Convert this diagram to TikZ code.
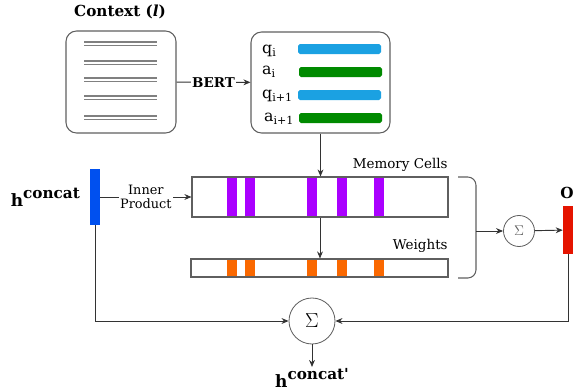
\documentclass[tikz,border=0pt]{standalone}
\usepackage{fontspec}
\setmainfont{DejaVu Serif}
\usetikzlibrary{arrows.meta}
\definecolor{qblue}{HTML}{1BA1E2}
\definecolor{agreen}{HTML}{008A00}
\definecolor{cellpurple}{HTML}{AA00FF}
\definecolor{wtorange}{HTML}{FA6800}
\definecolor{hblue}{HTML}{0050EF}
\definecolor{ored}{HTML}{E51400}
\definecolor{edgegray}{HTML}{5F5F5F}
\begin{document}
\begin{tikzpicture}[x=0.03cm, y=-0.03cm,
    >={Stealth[length=6pt,width=5pt]},
    font=\fontsize{11.5}{13}\selectfont,
    roundbox/.style={draw=edgegray, line width=0.9pt, rounded corners=9pt, inner sep=0pt},
    cellbox/.style={draw=edgegray, line width=0.9pt, inner sep=0pt},
    vecbar/.style={draw=none, inner sep=0pt, minimum width=0.3cm},
    sumnode/.style={circle, draw=edgegray, line width=0.7pt, inner sep=0pt},
    qlbl/.style={anchor=west, inner sep=0pt, font=\fontsize{13.5}{15}\selectfont},
    boldlbl/.style={font=\fontsize{14.5}{16}\selectfont\bfseries}]
  \useasboundingbox (0,0) rectangle (579,390);
  % context and encoder boxes
  \node[roundbox, minimum width=3.3cm, minimum height=3.06cm] (ctx) at (121,82) {};
  \node[boldlbl, font=\fontsize{13}{15}\selectfont\bfseries] (ctxlbl) at (120,12) {Context (\textit{l})};
  \foreach \ly in {42,61,78,96,116}
    \draw[gray, line width=1.1pt] (84,\ly) -- (157,\ly) (84,\ly+3.5) -- (157,\ly+3.5);
  \node[roundbox, minimum width=4.17cm, minimum height=3.03cm] (enc) at (320.5,82.5) {};
  \node[qlbl] (qa) at (262,51) {q\textsubscript{i}};
  \node[qlbl] (aa) at (262,72) {a\textsubscript{i}};
  \node[qlbl] (qb) at (262,96) {q\textsubscript{i+1}};
  \node[qlbl] (ab) at (264,119) {a\textsubscript{i+1}};
  \fill[qblue, rounded corners=1.5pt] (298,44) rectangle (381,54);
  \fill[agreen, rounded corners=1.5pt] (299,67) rectangle (382,77);
  \fill[qblue, rounded corners=1.5pt] (298,90) rectangle (381,100);
  \fill[agreen, rounded corners=1.5pt] (299,113) rectangle (382,123);
  % memory cells and weights
  \foreach \sx in {227,245,307,337,374} {
    \fill[cellpurple] (\sx,177) rectangle ++(10,40);
    \fill[wtorange] (\sx,259) rectangle ++(10,18);
  }
  \node[cellbox, minimum width=7.68cm, minimum height=1.2cm] (mem) at (320,197) {};
  \node[cellbox, minimum width=7.71cm, minimum height=0.54cm] (wts) at (319.5,268) {};
  \node[anchor=south east, inner sep=1pt] (memlbl) at (449,173) {Memory Cells};
  \node[anchor=south east, inner sep=1pt] (wtslbl) at (449,254) {Weights};
  \draw[edgegray, line width=0.9pt, rounded corners=7pt] (458,177) -- (476,177) -- (476,278) -- (458,278);
  \coordinate (bt) at (476,231);
  % vectors and sums
  \node[vecbar, fill=hblue, minimum height=1.68cm] (hbar) at (95,197) {};
  \node[boldlbl, anchor=east] (hlbl) at (84,197) {h\raisebox{0.48em}{\fontsize{13}{13}\selectfont concat}};
  \node[vecbar, fill=ored, minimum height=1.44cm] (obar) at (568,230) {};
  \node[boldlbl, font=\fontsize{13}{15}\selectfont\bfseries] (olbl) at (567,193) {O};
  \node[sumnode, minimum size=0.93cm, text=edgegray] (sum1) at (519,231) {\large$\Sigma$};
  \node[sumnode, minimum size=1.38cm] (sum2) at (312,321) {\LARGE$\Sigma$};
  \node[boldlbl, inner sep=1pt] (hout) at (312,378) {h\raisebox{0.48em}{\fontsize{13}{13}\selectfont concat\textquotesingle}};
  \begin{scope}[line width=0.8pt, black!80]
    \draw[->] (ctx) -- node[fill=white, inner sep=1pt, text=black, font=\fontsize{11.5}{13}\selectfont\bfseries] {BERT} (enc);
    \draw[->] (enc.south) -- (enc.south |- mem.north);
    \draw[->] (mem.south) -- (mem.south |- wts.north);
    \draw[->] (hbar) -- node[fill=white, inner sep=1pt, align=center, text=black, font=\fontsize{11}{12.5}\selectfont] {Inner\\Product} (mem);
    \draw[->] (hbar.south) |- (sum2.west);
    \draw[->] (bt) -- (sum1);
    \draw[->] (sum1) -- (obar);
    \draw[->] (obar.south) |- (sum2.east);
    \draw[->] (sum2) -- (hout);
  \end{scope}
\end{tikzpicture}
\end{document}
